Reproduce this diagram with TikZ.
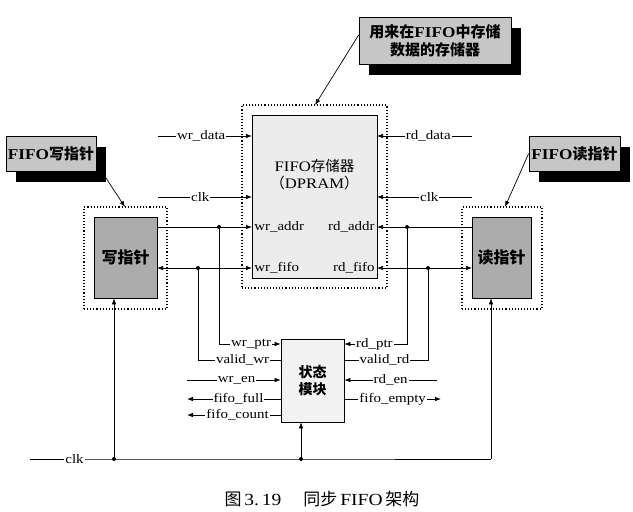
\documentclass[tikz,border=0pt]{standalone}
\usepackage{fontspec}
\setmainfont{Liberation Serif}[FakeStretch=1.15]
\newfontfamily\cjk{Noto Sans CJK SC}
\usetikzlibrary{arrows.meta,shadows}
\begin{document}
\begin{tikzpicture}[x=1pt,y=-1pt,
  arr/.style={-{Latex[length=6pt,width=4.5pt]}},
  barr/.style={{Latex[length=6pt,width=4.5pt]}-{Latex[length=6pt,width=4.5pt]}},
  every path/.style={line width=0.7pt},
  lbl/.style={fill=white,inner sep=1pt,font=\fontsize{13}{13}\selectfont},
  callout/.style={draw,fill=gray!45,line width=0.7pt,align=center,inner sep=0pt,
     drop shadow={shadow xshift=10pt,shadow yshift=-11pt,opacity=1,fill=black},
     font=\bfseries\fontsize{15}{18}\selectfont},
  dotbox/.style={draw,dotted,line width=1.1pt,inner sep=0pt},
  ptrbox/.style={draw,fill=gray!65,inner sep=0pt,font=\cjk\bfseries\fontsize{16}{18}\selectfont},
  dot/.style={circle,fill,inner sep=0pt,minimum size=4pt}]
\useasboundingbox (0,0) rectangle (633,512);

% callouts
\node[callout,minimum width=152pt,minimum height=47pt] (callM) at (435,40.5)
  {\cjk 用来在\rmfamily FIFO\cjk 中存储\\\cjk 数据的存储器};
\node[callout,minimum width=90pt,minimum height=35pt] (callW) at (51,153.5)
  {FIFO\cjk 写指针};
\node[callout,minimum width=91pt,minimum height=35pt] (callR) at (574.5,153.5)
  {FIFO\cjk 读指针};

% memory
\node[dotbox,minimum width=145pt,minimum height=183pt] (memDot) at (314.5,196.5) {};
\node[draw,fill=gray!15,minimum width=125pt,minimum height=163pt,inner sep=0pt] (mem) at (314.5,196.5) {};
\node[font=\fontsize{14.5}{17}\selectfont,align=center] (memT) at (314.5,175)
  {FIFO{\cjk 存储器}\\{\cjk （}DPRAM{\cjk ）}};
\node[anchor=west,font=\fontsize{13}{13}\selectfont,inner sep=1pt] (waddr) at (253,227) {wr\_addr};
\node[anchor=east,font=\fontsize{13}{13}\selectfont,inner sep=1pt] (raddr) at (376,227) {rd\_addr};
\node[anchor=west,font=\fontsize{13}{13}\selectfont,inner sep=1pt] (wfifo) at (253,268) {wr\_fifo};
\node[anchor=east,font=\fontsize{13}{13}\selectfont,inner sep=1pt] (rfifo) at (376,268) {rd\_fifo};

% pointers
\node[dotbox,minimum width=83pt,minimum height=102pt] (wpDot) at (125.5,258) {};
\node[ptrbox,minimum width=63pt,minimum height=81pt] (wp) at (125.5,257.5) {写指针};
\node[dotbox,minimum width=80pt,minimum height=102pt] (rpDot) at (502,258) {};
\node[ptrbox,minimum width=59pt,minimum height=81pt] (rp) at (501.5,257.5) {读指针};

% state
\node[draw,fill=gray!10,minimum width=63pt,minimum height=83pt,inner sep=0pt,align=center,
  font=\cjk\bfseries\fontsize{14}{17}\selectfont] (st) at (312.5,380.5) {状态\\模块};

% callout arrows
\coordinate (aM) at (315,105);
\coordinate (aW) at (125,207);
\coordinate (aR) at (505,207);
\draw[arr] (callM.west |- 0,35) -- (aM);
\draw[arr] (102,172) -- (aW);
\draw[arr] (callR.west) -- (aR);

% memory inputs
\coordinate (wdIn) at (158,136); \coordinate (wdE) at (252,136);
\coordinate (wcIn) at (158,197); \coordinate (wcE) at (252,197);
\coordinate (rdIn) at (472,136); \coordinate (rdE) at (377,136);
\coordinate (rcIn) at (472,197); \coordinate (rcE) at (377,197);
\draw[arr] (wdIn) -- node[lbl,pos=0.46]{wr\_data} (wdE);
\draw[arr] (wcIn) -- node[lbl,pos=0.45]{clk} (wcE);
\draw[arr] (rdIn) -- node[lbl,pos=0.46]{rd\_data} (rdE);
\draw[arr] (rcIn) -- node[lbl,pos=0.45]{clk} (rcE);

% address / fifo lines
\coordinate (wpA) at (157,227); \coordinate (memA) at (252,227);
\coordinate (wpF) at (157,268); \coordinate (memF) at (252,268);
\coordinate (rpA) at (472,227); \coordinate (memRA) at (377,227);
\coordinate (rpF) at (472,268); \coordinate (memRF) at (377,268);
\draw[arr] (wpA) -- (memA);
\draw[barr] (wpF) -- (memF);
\draw[arr] (rpA) -- (memRA);
\draw[barr] (memRF) -- (rpF);
\node[dot] (dA) at (219,227) {};
\node[dot] (dF) at (198,268) {};
\node[dot] (dRA) at (407,227) {};
\node[dot] (dRF) at (428,268) {};

% state connections
\coordinate (yWP) at (0,344); \coordinate (yVW) at (0,360);
\coordinate (yEN) at (0,380); \coordinate (yFF) at (0,399); \coordinate (yFC) at (0,415);
\draw[arr] (dA.center) |- node[lbl,pos=0.76]{wr\_ptr} (st.west |- yWP);
\draw (dF.center) |- node[lbl,pos=0.77]{valid\_wr} (st.west |- yVW);
\draw[arr] (dRA.center) |- node[lbl,pos=0.76]{rd\_ptr} (st.east |- yWP);
\draw (dRF.center) |- node[lbl,pos=0.76]{valid\_rd} (st.east |- yVW);
\coordinate (wenIn) at (187,380); \coordinate (ffOut) at (187,399); \coordinate (fcOut) at (187,415);
\coordinate (renIn) at (437,380); \coordinate (feOut) at (441,399);
\draw[arr] (wenIn) -- node[lbl,pos=0.53]{wr\_en} (st.west |- yEN);
\draw[arr] (st.west |- yFF) -- node[lbl,pos=0.45]{fifo\_full} (ffOut);
\draw[arr] (st.west |- yFC) -- node[lbl,pos=0.46]{fifo\_count} (fcOut);
\draw[arr] (renIn) -- node[lbl,pos=0.5]{rd\_en} (st.east |- yEN);
\draw[arr] (st.east |- yFF) -- node[lbl,pos=0.5]{fifo\_empty} (feOut);

% clock tree
\coordinate (clkIn) at (30,459);
\node[dot] (dC1) at (114,459) {};
\node[dot] (dC2) at (301,459) {};
\coordinate (cR) at (491,459);
\draw (clkIn) -- node[lbl,pos=0.53]{clk} (dC1.center) -- (dC2.center) -- (cR);
\draw[arr] (dC1.center) -- (dC1 |- wp.south);
\draw[arr] (dC2.center) -- (dC2 |- st.south);
\draw[arr] (cR) -- (cR |- rp.south);

% caption
\node[font=\fontsize{17}{19}\selectfont] (cap) at (322,499)
  {{\cjk 图}\,3.\,19\hspace{22pt}{\cjk 同步}\,FIFO\,{\cjk 架构}};
\end{tikzpicture}
\end{document}
